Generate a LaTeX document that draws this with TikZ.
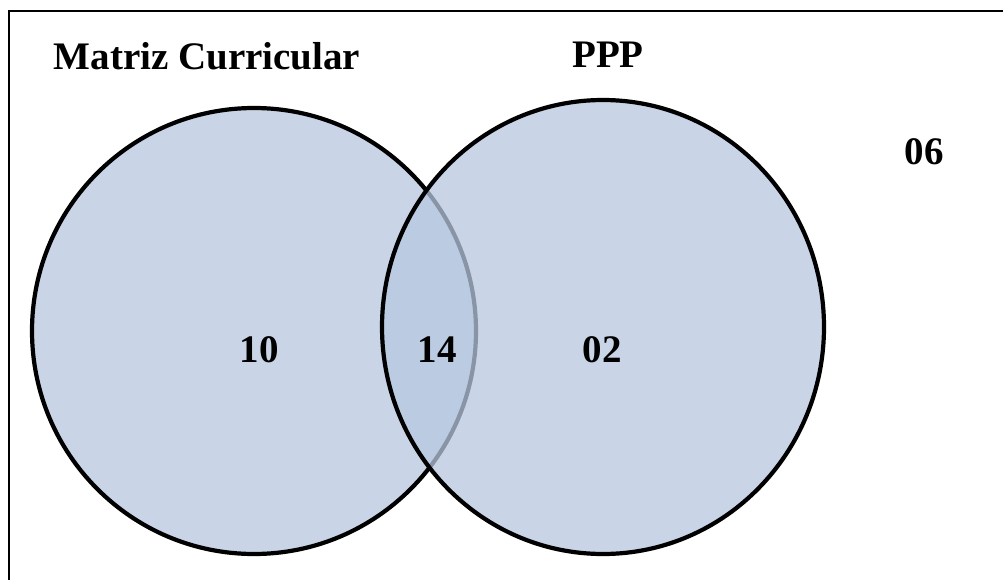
\documentclass[tikz,border=0pt]{standalone}
\usepackage{fontspec}
\setmainfont{Liberation Serif}
\usetikzlibrary{shapes.geometric}
\definecolor{vennfill}{RGB}{183,200,224}
\tikzset{
  set/.style={ellipse, draw=black, line width=4.2pt, fill=vennfill, fill opacity=0.75, draw opacity=1, inner sep=0pt},
  lbl/.style={anchor=base, font=\bfseries\fontsize{39}{44}\selectfont, inner sep=0pt, text opacity=1}
}
\begin{document}
\begin{tikzpicture}[x=1pt,y=-1pt]
\clip (0,0) rectangle (1003,580);
\useasboundingbox (0,0) rectangle (1003,580);
\fill[white] (0,0) rectangle (1003,580);
\draw[line width=1.8pt] (9,11) rectangle (1020,600);
\node[set, minimum width=444pt, minimum height=446pt] (mc) at (254,331) {};
\node[set, minimum width=442pt, minimum height=454pt] (ppp) at (603,327) {};
\node[lbl] (tmc) at (207,70) {Matriz Curricular};
\node[lbl] (tppp) at (608,68) {PPP};
\node[lbl] (t06) at (924,165) {06};
\node[lbl] (t10) at (259,362) {10};
\node[lbl] (t14) at (437,362) {14};
\node[lbl] (t02) at (602,362) {02};
\end{tikzpicture}
\end{document}
